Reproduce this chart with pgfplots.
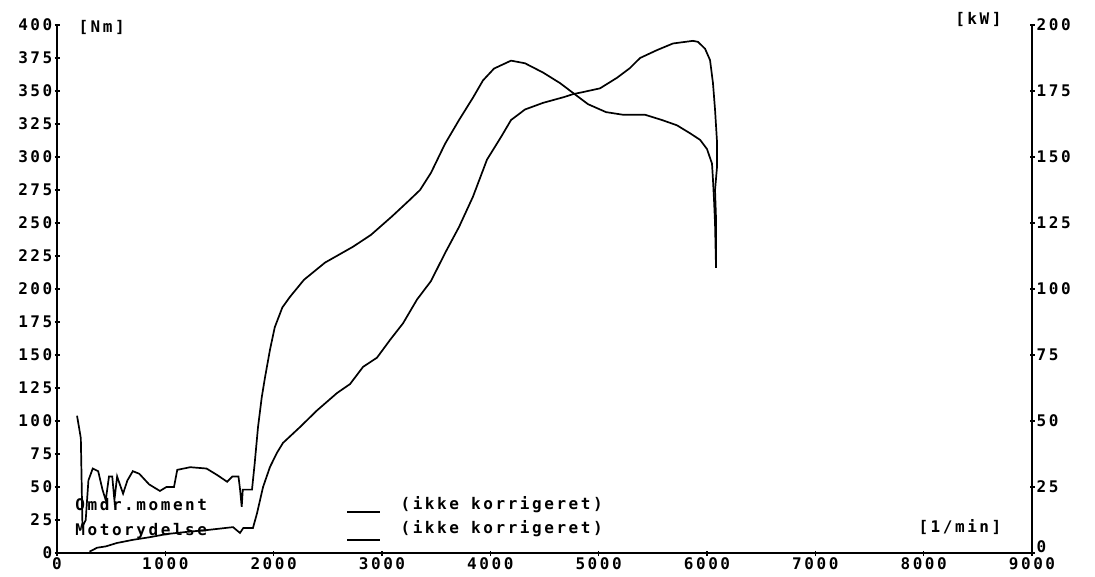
\documentclass[border=0pt]{standalone}
\usepackage{pgfplots}
\pgfplotsset{compat=1.18}
\usepackage{fontspec}
\newfontfamily\dosfont[LetterSpace=16]{DejaVu Sans Mono Bold}
\newcommand\dos{\dosfont\fontsize{16}{18}\selectfont}

\begin{document}
\begin{tikzpicture}
\pgfplotsset{
  common/.style={
    scale only axis, width=975pt, height=528pt,
    xmin=0, xmax=9000,
    tick align=outside, major tick length=5pt,
    tick style={line width=1.3pt, black},
    ticklabel style={font=\dos, inner sep=2pt},
    /pgf/number format/assume math mode=true,
    /pgf/number format/1000 sep={},
    clip=false,
  }
}
\begin{axis}[common,
  ymin=0, ymax=400,
  axis x line=bottom, axis y line=left,
  axis line style={-, line width=1.5pt},
  xtick={0,1000,...,9000}, ytick={0,25,...,400},
]
\addplot[black, line width=1.7pt] coordinates {
(185,104)(220,87)(235,20)(265,25)(290,55)(330,64)(380,62)(420,48)(450,40)
(480,58)(510,58)(530,40)(555,58)(580,52)(610,45)(650,55)(700,62)(760,60)
(850,52)(950,47)(1010,50)(1080,50)(1110,63)(1230,65)(1380,64)(1480,59)
(1570,54)(1620,58)(1675,58)(1690,48)(1705,35)(1715,48)(1800,48)(1825,68)
(1855,95)(1890,118)(1920,133)(1966,154)(2010,171)(2080,186)(2150,194)
(2280,207)(2474,220)(2732,232)(2898,241)(3092,255)(3249,267)(3351,275)
(3452,288)(3582,310)(3711,328)(3840,345)(3932,358)(4034,367)(4191,373)
(4320,371)(4486,364)(4643,356)(4772,348)(4902,340)(5068,334)(5225,332)
(5428,332)(5585,328)(5723,324)(5843,318)(5936,313)(6000,306)(6046,295)
(6055,283)(6065,267)(6074,250)(6083,217)
};
\node[anchor=west, font=\dos] at (axis cs:166,398) {[Nm]};
\node[anchor=east, font=\dos] at (axis cs:8751,404) {[kW]};
\node[anchor=west, font=\dos] at (axis cs:7920,19.7) {[1/min]};
\node[anchor=west, font=\dos] at (axis cs:138,36.4) {Omdr.moment};
\node[anchor=west, font=\dos] at (axis cs:138,16.7) {Motorydelse};
\node[anchor=west, font=\dos] at (axis cs:3139,36.4) {(ikke korrigeret)};
\node[anchor=west, font=\dos] at (axis cs:3139,18.2) {(ikke korrigeret)};
\draw[black, line width=1.7pt] (axis cs:2677,31) -- (axis cs:2982,31);
\draw[black, line width=1.7pt] (axis cs:2677,9.8) -- (axis cs:2982,9.8);
\end{axis}
\begin{axis}[common,
  ymin=0, ymax=200,
  axis x line=none, axis y line=right,
  axis line style={-, line width=1.5pt},
  ytick={25,50,...,200},
  extra y ticks={0},
  extra y tick style={yticklabel style={yshift=6pt}},
]
\addplot[black, line width=1.7pt] coordinates {
(300,0.5)(370,2)(450,2.5)(554,3.8)(702,5)(858,6)(1015,7.2)(1200,8)
(1385,8.7)(1625,9.8)(1689,7.6)(1720,9.5)(1809,9.5)(1846,15)(1902,25)
(1966,32.6)(2031,38)(2086,41.7)(2243,47.7)(2400,54)(2585,60.6)(2705,64)
(2825,70.5)(2954,74)(3074,80.7)(3194,87)(3323,96)(3452,103)(3582,113.6)
(3711,123.5)(3840,135)(3969,149)(4099,157.6)(4191,164)(4320,168)
(4486,170.5)(4680,172.7)(4763,173.8)(4856,174.6)(5012,176)(5169,180)
(5289,183.7)(5382,187.5)(5539,190.5)(5686,193)(5871,194)(5917,193.6)
(5982,191)(6028,186.7)(6055,178)(6074,168)(6092,156)(6092,146)
(6074,137.5)(6083,127)(6083,108)
};
\end{axis}
\pgfresetboundingbox
\path[use as bounding box] ([xshift=-57pt,yshift=-23pt]current axis.south west) rectangle ([xshift=63pt,yshift=25pt]current axis.north east);
\end{tikzpicture}
\end{document}
